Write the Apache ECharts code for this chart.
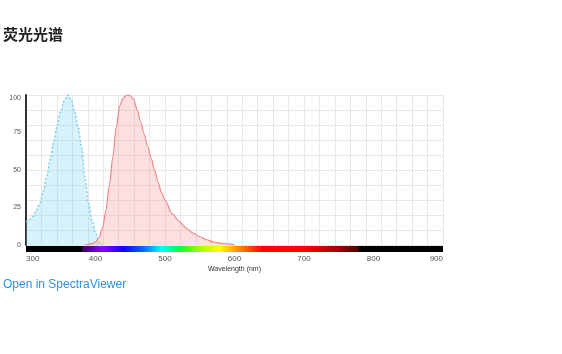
<!DOCTYPE html>
<html>
<head>
<meta charset="utf-8">
<script src="https://cdn.jsdelivr.net/npm/echarts@6/dist/echarts.min.js"></script>
<style>
  html, body { margin: 0; padding: 0; background: #fff; }
  #chart { width: 562px; height: 354px; }
</style>
</head>
<body>
<div id="chart"></div>
<script>
// excitation spectrum (dotted blue)
const exWavelength = [300, 305, 310, 315, 320, 325, 330, 335, 340, 345, 350, 355, 360, 365, 370, 375, 380, 385, 390, 395, 400, 405, 410];
const exIntensity = [15.5, 17, 19, 23, 28, 36, 46, 57, 69, 80, 90, 96, 100, 97, 89, 79, 65, 44, 28, 16, 8, 2, 0];
// emission spectrum (solid red)
const emWavelength = [385, 390, 395, 400, 405, 410, 415, 420, 425, 430, 435, 440, 445, 450, 455, 460, 465, 470, 475, 480, 485, 490, 495, 500, 510, 520, 530, 540, 550, 560, 570, 580, 590, 600];
const emIntensity = [0, 0.5, 1, 2, 5, 11, 23, 40, 59, 79, 93, 98, 100, 99.5, 97, 90, 82, 74, 66, 58, 50, 42, 35, 30, 21, 16, 11.5, 8, 5.5, 3.5, 2, 1.2, 0.8, 0.3];
// tick labels
const xTicks = [300, 400, 500, 600, 700, 800, 900];
const yTicks = [0, 25, 50, 75, 100];
// visible spectrum bar under the axis: wavelength -> colour
const barStops = [
  [300, "#000000"], [380, "#000000"], [381, "#3a0060"], [410, "#8a00ff"],
  [440, "#1000ff"], [470, "#0070ff"], [495, "#00ffff"], [520, "#00ff40"],
  [550, "#a0ff00"], [578, "#ffff00"], [605, "#ff9000"], [640, "#ff0000"],
  [700, "#ff0000"], [750, "#a00000"], [779, "#500000"], [780, "#000000"],
  [900, "#000000"],
];

const xMin = xTicks[0];
const xMax = xTicks[xTicks.length - 1];
const yMin = yTicks[0];
const yMax = yTicks[yTicks.length - 1];

const chart = echarts.init(document.getElementById("chart"));

const exData = exWavelength.map((w, i) => [w, exIntensity[i]]);
const emData = emWavelength.map((w, i) => [w, emIntensity[i]]);

const gridLeft = 26;
const gridRight = 119;
const gridTop = 95;
const gridBottom = 109;
const plotWidth = 562 - gridLeft - gridRight;

const option = {
  animation: false,
  title: {
    text: "荧光光谱",
    left: 3,
    top: 27,
    padding: 0,
    textStyle: {
      fontFamily: "Noto Sans CJK SC",
      fontSize: 15,
      fontWeight: "bold",
      color: "#222",
    },
  },
  grid: {
    left: gridLeft,
    right: gridRight,
    top: gridTop,
    bottom: gridBottom,
    containLabel: false,
    outerBoundsMode: "none",
  },
  xAxis: [
    {
      type: "value",
      min: xMin,
      max: xMax,
      interval: 100,
      name: "Wavelength (nm)",
      nameLocation: "middle",
      nameGap: 21,
      nameTextStyle: { fontFamily: "Liberation Sans", fontSize: 7, color: "#333" },
      axisLine: { show: false },
      axisTick: { show: false },
      splitLine: { show: false },
      axisLabel: {
        margin: 10,
        fontFamily: "Liberation Sans",
        fontSize: 8,
        color: "#555",
        alignMinLabel: "left",
        alignMaxLabel: "right",
      },
    },
    {
      // only for the fine background grid
      type: "value",
      min: 0,
      max: 27,
      interval: 1,
      position: "bottom",
      axisLine: { show: false },
      axisTick: { show: false },
      axisLabel: { show: false },
      splitLine: { show: true, lineStyle: { color: "#e8e8e8", width: 1 } },
    },
  ],
  yAxis: [
    {
      type: "value",
      min: yMin,
      max: yMax,
      interval: 25,
      name: "Relative Intensity (%)",
      nameLocation: "middle",
      nameGap: 18,
      nameRotate: 90,
      nameTextStyle: { fontFamily: "Liberation Sans", fontSize: 6.5, color: "#333" },
      axisLine: { show: true, lineStyle: { color: "#333", width: 2 } },
      axisTick: { show: false },
      splitLine: { show: false },
      axisLabel: {
        margin: 5,
        fontFamily: "Liberation Sans",
        fontSize: 7,
        color: "#555",
        verticalAlignMaxLabel: "top",
      },
    },
    {
      type: "value",
      min: 0,
      max: 10,
      interval: 1,
      axisLine: { show: false },
      axisTick: { show: false },
      axisLabel: { show: false },
      splitLine: { show: true, lineStyle: { color: "#e8e8e8", width: 1 } },
    },
  ],
  series: [
    {
      name: "Excitation",
      type: "line",
      xAxisIndex: 0,
      yAxisIndex: 0,
      data: exData,
      smooth: 0.3,
      smoothMonotone: "x",
      showSymbol: false,
      lineStyle: { color: "#6ccbf0", width: 1.3, type: [2, 2] },
      areaStyle: { color: "rgba(110, 205, 245, 0.38)" },
      z: 3,
    },
    {
      name: "Emission",
      type: "line",
      xAxisIndex: 0,
      yAxisIndex: 0,
      data: emData,
      smooth: 0.3,
      smoothMonotone: "x",
      showSymbol: false,
      lineStyle: { color: "#f08585", width: 1.2 },
      areaStyle: { color: "rgba(245, 140, 140, 0.38)" },
      z: 4,
    },
  ],
  graphic: [
    {
      type: "rect",
      left: gridLeft,
      top: 246,
      shape: { width: plotWidth, height: 6 },
      style: {
        fill: new echarts.graphic.LinearGradient(
          0, 0, 1, 0,
          barStops.map((s) => ({ offset: (s[0] - xMin) / (xMax - xMin), color: s[1] }))
        ),
      },
      z: 10,
    },
    {
      type: "text",
      left: 3,
      top: 279,
      style: {
        text: "Open in SpectraViewer",
        fontFamily: "Liberation Sans",
        fontSize: 12,
        fill: "#2f8fe3",
      },
    },
  ],
};

chart.setOption(option);
</script>
</body>
</html>
